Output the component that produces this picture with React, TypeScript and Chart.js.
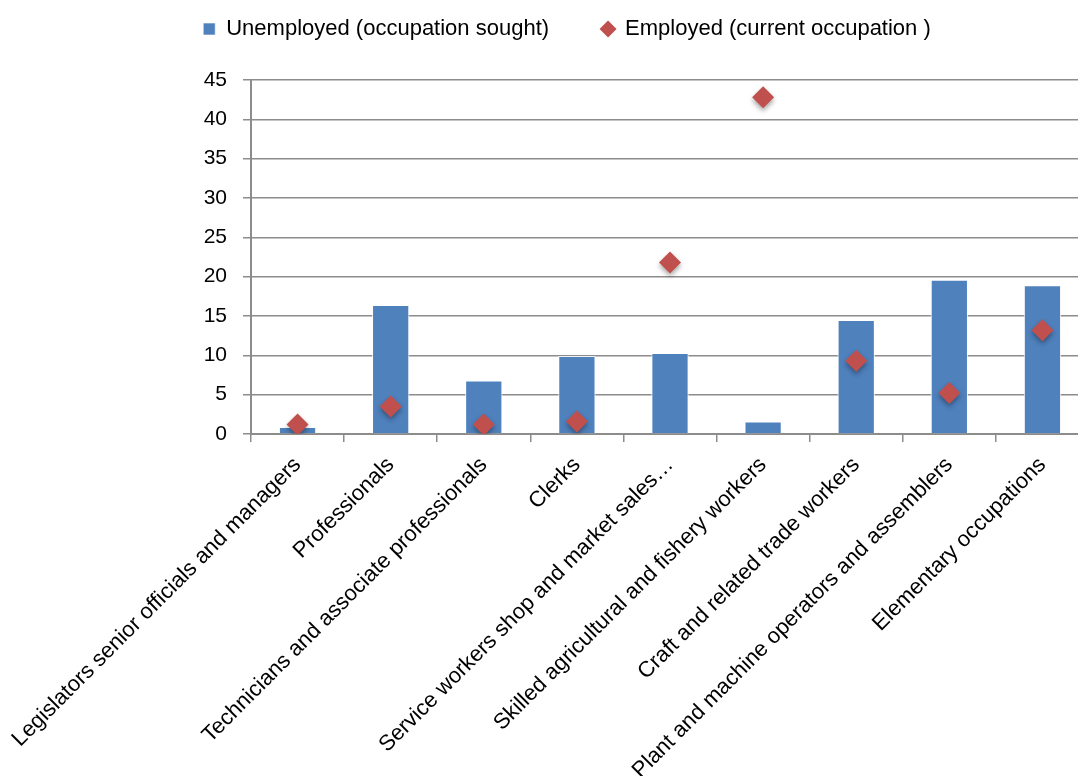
import React, { useEffect, useRef } from "react";
import { Chart, registerables } from "chart.js";

Chart.register(...registerables);

const categories = [
  "Legislators senior officials and managers",
  "Professionals",
  "Technicians and associate professionals",
  "Clerks",
  "Service workers shop and market sales…",
  "Skilled agricultural and fishery workers",
  "Craft and related trade workers",
  "Plant and machine operators and assemblers",
  "Elementary occupations",
];

const unemployed = [0.9, 16.4, 6.8, 9.9, 10.3, 1.6, 14.5, 19.6, 18.9];
const employed = [1.2, 3.5, 1.2, 1.6, 21.8, 42.8, 9.3, 5.2, 13.2];

const seriesNames = ["Unemployed (occupation sought)", "Employed (current occupation )"];

const yMin = 0;
const yMax = 45;
const yStep = 5;

const BLUE = "#4F81BD";
const RED = "#C0504D";
const GRID = "#8c8c8c";
const FONT = "'Liberation Sans', Arial, sans-serif";

const CANVAS_W = 1100;
const CANVAS_H = 776;

export default function App() {
  const ref = useRef<HTMLCanvasElement | null>(null);

  useEffect(() => {
    if (!ref.current) return;
    const shadowPlugin = {
      id: "shadows",
      beforeDatasetDraw(chart: any, args: any) {
        const ctx = chart.ctx;
        ctx.save();
        if (args.index === 1) {
          ctx.shadowColor = "rgba(0,0,0,0.35)";
          ctx.shadowBlur = 5;
          ctx.shadowOffsetX = 0;
          ctx.shadowOffsetY = 3;
        } else {
          ctx.shadowColor = "rgba(255,255,255,0.95)";
          ctx.shadowBlur = 6;
        }
      },
      afterDatasetDraw(chart: any) {
        chart.ctx.restore();
      },
    };

    const chart = new Chart(ref.current, {
      type: "bar",
      data: {
        labels: categories,
        datasets: [
          {
            type: "bar",
            label: seriesNames[0],
            data: unemployed,
            backgroundColor: BLUE,
            borderColor: "rgba(255,255,255,0.6)",
            borderWidth: 1,
            pointStyle: "rect",
            barPercentage: 0.4,
            categoryPercentage: 1,
            order: 1,
          } as any,
          {
            type: "line",
            label: seriesNames[1],
            data: employed,
            showLine: false,
            pointStyle: "rectRot",
            pointRadius: 11,
            pointBackgroundColor: RED,
            pointBorderColor: RED,
            pointBorderWidth: 0,
            backgroundColor: RED,
            borderColor: RED,
            borderWidth: 0,
            order: 0,
          } as any,
        ],
      },
      options: {
        responsive: false,
        animation: false,
        layout: { padding: { left: 43, right: CANVAS_W - 1091, top: -35, bottom: 0 } },
        plugins: {
          tooltip: { enabled: false },
          legend: {
            position: "top",
            labels: {
              usePointStyle: true,
              boxWidth: 12,
              boxHeight: 12,
              padding: 53,
              color: "#000",
              font: { family: FONT, size: 22 },
              sort: (a: any, b: any) => a.datasetIndex - b.datasetIndex,
            },
          },
        },
        scales: {
          x: {
            offset: true,
            grid: {
              offset: true,
              drawOnChartArea: false,
              drawTicks: true,
              tickLength: 8,
              color: GRID,
              lineWidth: 1.5,
            },
            border: { display: true, color: GRID, width: 2 },
            ticks: {
              autoSkip: false,
              minRotation: 45,
              maxRotation: 45,
              color: "#000",
              padding: 10,
              font: { family: FONT, size: 22 },
            },
            afterFit(scale: any) {
              scale.height = CANVAS_H - 434;
              scale.paddingLeft = 0;
              scale.paddingRight = 0;
            },
          },
          y: {
            min: yMin,
            max: yMax,
            grid: {
              color: GRID,
              lineWidth: 1.5,
              drawTicks: true,
              tickLength: 8,
            },
            border: { display: true, color: GRID, width: 2 },
            ticks: {
              stepSize: yStep,
              color: "#000",
              padding: 16,
              font: { family: FONT, size: 21 },
            },
            afterFit(scale: any) {
              scale.width = 208;
            },
          },
        },
      },
      plugins: [shadowPlugin],
    } as any);

    const legend: any = (chart as any).legend;
    if (legend) {
      const origFit = legend.fit.bind(legend);
      legend.fit = function () {
        origFit();
        this.height = 115;
      };
      chart.update();
    }

    return () => chart.destroy();
  }, []);

  return (
    <div
      style={{
        position: "fixed",
        left: 0,
        top: 0,
        width: 1078,
        height: 776,
        overflow: "hidden",
        background: "#fff",
      }}
    >
      <canvas ref={ref} width={CANVAS_W} height={CANVAS_H} style={{ display: "block" }} />
    </div>
  );
}
